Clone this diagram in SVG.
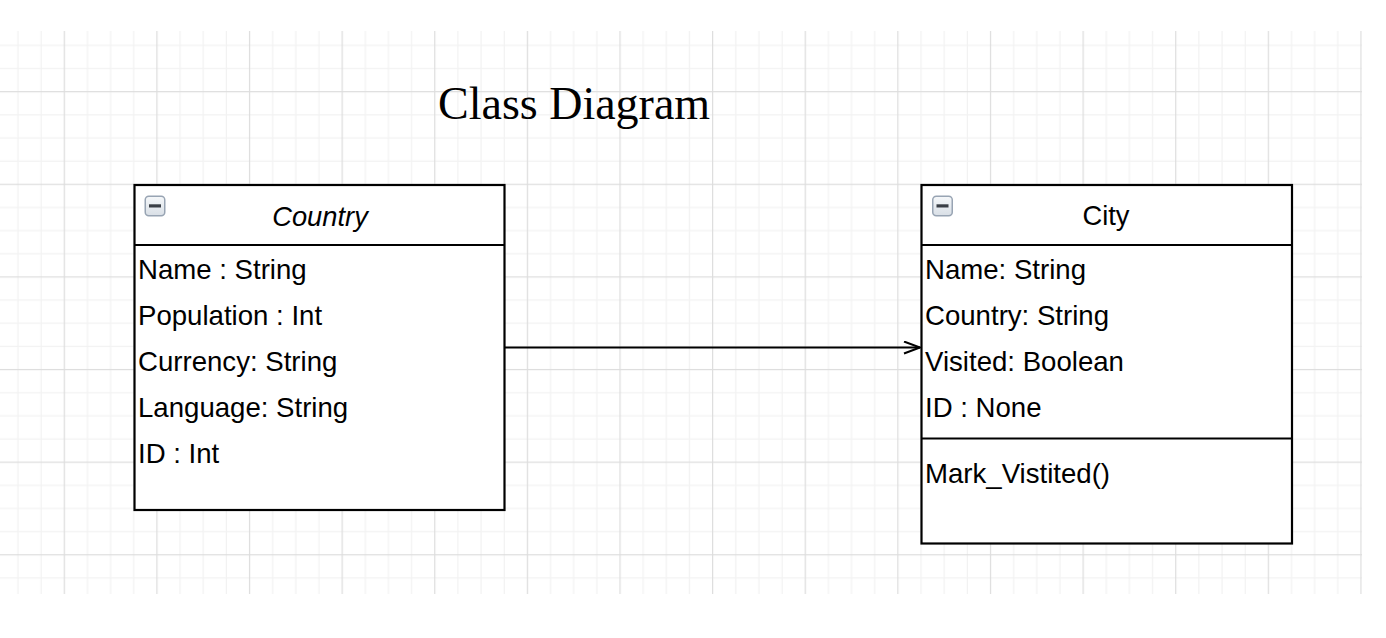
<svg xmlns="http://www.w3.org/2000/svg" width="1386" height="638" viewBox="0 0 1386 638">
  <style>
    .box { fill: #ffffff; stroke: #000000; stroke-width: 2.2; }
    .sep { stroke: #000000; stroke-width: 2.2; fill: none; }
    .attr { font-family: "Liberation Sans", Arial, sans-serif; font-size: 27.6px; fill: #000000; }
    .head { font-family: "Liberation Sans", Arial, sans-serif; font-size: 27.3px; fill: #000000; text-anchor: middle; }
    .title { font-family: "Liberation Serif", "Times New Roman", serif; font-size: 46px; fill: #000000; }
    .conn { stroke: #000000; stroke-width: 2; fill: none; }
  </style>
  <defs>
    <pattern id="grid" patternUnits="userSpaceOnUse" x="63.7" y="91.1" width="92.62" height="92.62">
      <rect x="23.155" y="0" width="1.2" height="92.62" fill="#f2f2f2"/>
      <rect x="46.31" y="0" width="1.2" height="92.62" fill="#f2f2f2"/>
      <rect x="69.465" y="0" width="1.2" height="92.62" fill="#f2f2f2"/>
      <rect x="0" y="23.155" width="92.62" height="1.2" fill="#f2f2f2"/>
      <rect x="0" y="46.31" width="92.62" height="1.2" fill="#f2f2f2"/>
      <rect x="0" y="69.465" width="92.62" height="1.2" fill="#f2f2f2"/>
      <rect x="0" y="0" width="1.2" height="92.62" fill="#dddddd"/>
      <rect x="0" y="0" width="92.62" height="1.2" fill="#dddddd"/>
    </pattern>
    <linearGradient id="iconBg" x1="0" y1="0" x2="0" y2="1">
      <stop offset="0" stop-color="#f6f8fa"/>
      <stop offset="1" stop-color="#d9dfe6"/>
    </linearGradient>
    <g id="collapse">
      <rect x="0.75" y="0.75" width="19.5" height="19.5" rx="3.5" fill="url(#iconBg)" stroke="#98a4b3" stroke-width="1.5"/>
      <rect x="4.5" y="8.8" width="12" height="3.2" fill="#3a3f46"/>
    </g>
    <marker id="open" markerWidth="20" markerHeight="16" refX="17" refY="7" orient="auto" markerUnits="userSpaceOnUse">
      <path d="M1,1 L17,7 L1,13" fill="none" stroke="#000000" stroke-width="2"/>
    </marker>
  </defs>

  <rect x="0" y="0" width="1386" height="638" fill="#ffffff"/>
  <rect x="0" y="31" width="1362" height="563" fill="url(#grid)"/>

  <g id="title">
    <text class="title" x="438" y="118.5">Class Diagram</text>
  </g>

  <g id="connectors">
    <line class="conn" x1="505" y1="347.5" x2="920" y2="347.5" marker-end="url(#open)"/>
  </g>

  <g id="country">
    <rect class="box" x="134.5" y="185" width="370" height="325"/>
    <line class="sep" x1="134.5" y1="245" x2="504.5" y2="245"/>
    <use href="#collapse" x="144.5" y="195.5"/>
    <text class="head" x="320" y="225.5" font-style="italic">Country</text>
    <text class="attr" x="138" y="278.5">Name : String</text>
    <text class="attr" x="138" y="324.7">Population : Int</text>
    <text class="attr" x="138" y="370.9">Currency: String</text>
    <text class="attr" x="138" y="417.1">Language: String</text>
    <text class="attr" x="138" y="463.3">ID : Int</text>
  </g>

  <g id="city">
    <rect class="box" x="921.5" y="185" width="370.5" height="358.5"/>
    <line class="sep" x1="921.5" y1="245" x2="1292" y2="245"/>
    <line class="sep" x1="921.5" y1="438.5" x2="1292" y2="438.5"/>
    <use href="#collapse" x="932" y="195.5"/>
    <text class="head" x="1106" y="225">City</text>
    <text class="attr" x="925" y="278.5">Name: String</text>
    <text class="attr" x="925" y="324.7">Country: String</text>
    <text class="attr" x="925" y="370.9">Visited: Boolean</text>
    <text class="attr" x="925" y="417.1">ID : None</text>
    <text class="attr" x="925" y="483.3">Mark_Vistited()</text>
  </g>
</svg>
